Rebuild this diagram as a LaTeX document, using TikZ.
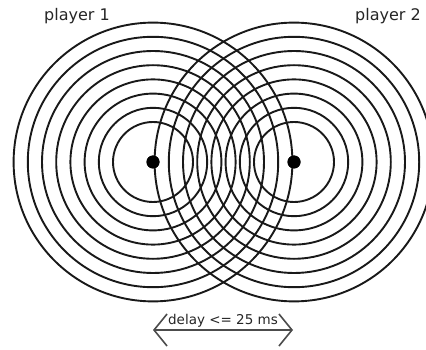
\documentclass[tikz,border=0pt]{standalone}
\usepackage{fontspec}
\setmainfont{DejaVu Sans}
\usetikzlibrary{arrows.meta}
\tikzset{
  ring/.style={draw=black!90, line width=1.9pt},
  player/.style={circle, fill=black, inner sep=0pt, minimum size=13pt},
  lbl/.style={font=\fontsize{16}{18}\selectfont, text=black!85, inner sep=0pt},
  delaylbl/.style={font=\fontsize{13.5}{15}\selectfont, text=black!85, inner sep=0pt},
  delayarrow/.style={draw=black!70, line width=2pt, {Straight Barb[length=13pt,width=32pt,line width=1.6pt]}-{Straight Barb[length=13pt,width=32pt,line width=1.6pt]}}
}
\begin{document}
\begin{tikzpicture}[x=1pt,y=-1pt]
  \fill[white] (0,0) rectangle (426,350);
  \useasboundingbox (0,0) rectangle (426,350);
  \node[player] (p1) at (153,162) {};
  \node[player] (p2) at (294,162) {};
  \begin{scope}
    \clip (0,0) rectangle (426,350);
    \foreach \r in {40,54.2,68.4,82.6,96.8,111,125.2,139.4} {
      \draw[ring] (p1.center) circle[radius=\r];
      \draw[ring] (p2.center) circle[radius=\r];
    }
  \end{scope}
  \node[player] at (p1) {};
  \node[player] at (p2) {};
  \node[lbl] (t1) at (77,16) {player 1};
  \node[lbl] (t2) at (388,16) {player 2};
  \coordinate (a1) at (153,330);
  \coordinate (a2) at (293,330);
  \draw[delayarrow] (a1) -- (a2);
  \node[delaylbl, anchor=base] (dl) at (223,324) {delay <= 25 ms};
\end{tikzpicture}
\end{document}
